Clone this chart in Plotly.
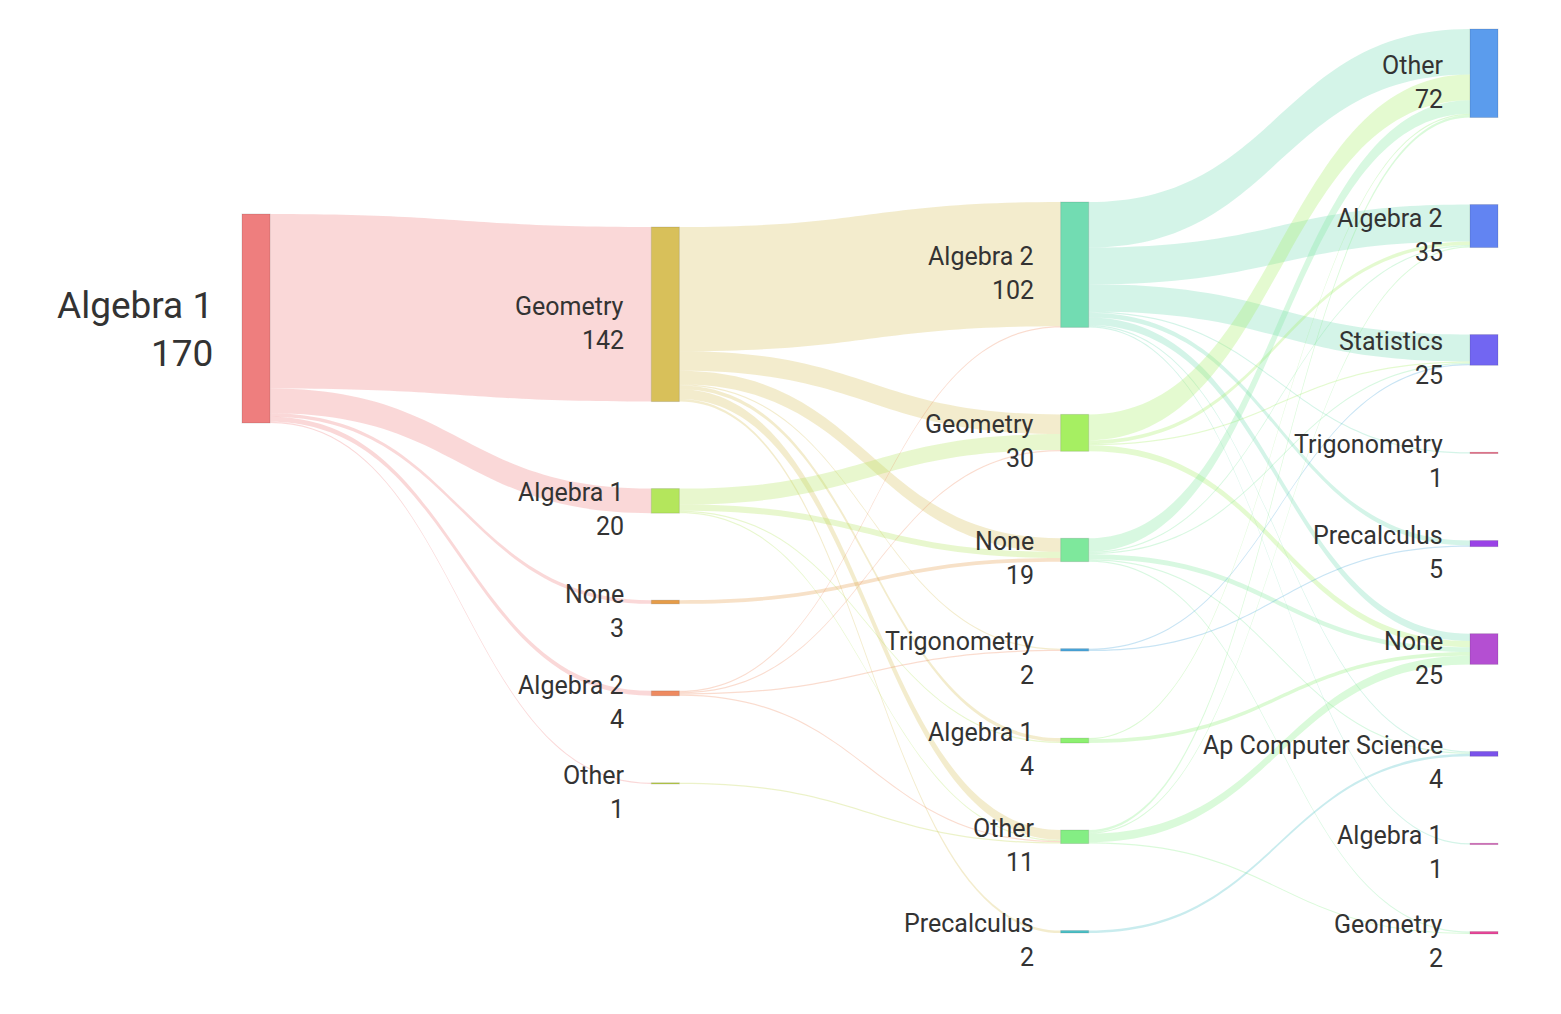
import plotly.graph_objects as go

# ---------------- data ----------------
node_names = [
    "Algebra 1",
    "Geometry", "Algebra 1", "None", "Algebra 2", "Other",
    "Algebra 2", "Geometry", "None", "Trigonometry", "Algebra 1", "Other", "Precalculus",
    "Other", "Algebra 2", "Statistics", "Trigonometry", "Precalculus", "None",
    "Ap Computer Science", "Algebra 1", "Geometry",
]
node_stage = [0,
              1, 1, 1, 1, 1,
              2, 2, 2, 2, 2, 2, 2,
              3, 3, 3, 3, 3, 3, 3, 3, 3]

link_source = [0, 0, 0, 0, 0,
               1, 1, 1, 1, 1, 1, 1,
               2, 2, 2, 2,
               3,
               4, 4, 4, 4,
               5,
               6, 6, 6, 6, 6, 6, 6, 6,
               7, 7, 7, 7,
               8, 8, 8, 8, 8, 8,
               9, 9,
               10, 10,
               11, 11, 11, 11,
               12]
link_target = [1, 2, 3, 4, 5,
               6, 7, 8, 9, 10, 11, 12,
               7, 8, 10, 11,
               8,
               6, 7, 9, 11,
               11,
               13, 14, 15, 16, 17, 18, 19, 20,
               13, 14, 15, 18,
               13, 14, 15, 18, 19, 21,
               15, 17,
               13, 18,
               13, 14, 18, 21,
               19]
link_value = [142, 20, 3, 4, 1,
              101, 16, 11, 1, 3, 8, 2,
              13, 5, 1, 1,
              3,
              1, 1, 1, 1,
              1,
              37, 30, 22, 1, 4, 6, 1, 1,
              21, 3, 1, 5,
              11, 1, 1, 4, 1, 1,
              1, 1,
              1, 3,
              2, 1, 7, 1,
              2]

# ---------------- style ----------------
node_colors = [
    "#ee7e7e",
    "#d8c05a", "#b4e65c", "#e69c48", "#ee8a60", "#bfd44c",
    "#72dcb2", "#a6ef62", "#7ee89c", "#4aa6dc", "#8cf070", "#84ee84", "#4cc0c6",
    "#5b9ced", "#6284f2", "#7266f2", "#ee4f72", "#9a42e6", "#b44fd2",
    "#7a52ea", "#d646b4", "#e8479a",
]

FIG_W, FIG_H = 1561, 1014
M_L, M_R = 256, 77
TOP_PX, BOTTOM_PX = 29, 934        # vertical extent of the fullest column
GAP = 87                           # gap between nodes
THICK = 28
COL_TOP = [214, 227, 202, 29]      # pixel top of each column's first node
N_STAGES = 4
PLOT_W = FIG_W - M_L - M_R


def hex_rgb(hx):
    hx = hx.lstrip("#")
    return int(hx[0:2], 16), int(hx[2:4], 16), int(hx[4:6], 16)


def rgba(hx, a):
    r, g, b = hex_rgb(hx)
    return f"rgba({r},{g},{b},{a})"


# node totals (from links)
n = len(node_names)
inflow = [0] * n
outflow = [0] * n
for s, t, v in zip(link_source, link_target, link_value):
    outflow[s] += v
    inflow[t] += v
node_total = [max(i, o) for i, o in zip(inflow, outflow)]

col_counts = [node_stage.count(k) for k in range(N_STAGES)]
col_sums = [sum(node_total[i] for i in range(n) if node_stage[i] == k) for k in range(N_STAGES)]
max_count = max(col_counts)
max_sum = max(col_sums)

# pixels per unit so that the fullest column spans TOP_PX..BOTTOM_PX with GAP spacing
KY = (BOTTOM_PX - TOP_PX - (max_count - 1) * GAP) / max_sum
# plotly's sankey caps padding at 2/3 of the height -> nodes take 1/3 of sankey height
SANKEY_H = 3 * KY * max_sum
PAD = 2 / 3 * SANKEY_H / (max_count - 1)
M_T = TOP_PX
M_B = FIG_H - M_T - SANKEY_H

# positions
node_cx_px, node_cy_px = [], []
cursor = list(COL_TOP)
for i in range(n):
    k = node_stage[i]
    h = node_total[i] * KY
    node_cy_px.append(cursor[k] + h / 2)
    cursor[k] += h + GAP
    node_cx_px.append(M_L + PLOT_W * k / (N_STAGES - 1))

node_x = [max((cx - M_L) / PLOT_W, 1e-6) for cx in node_cx_px]
node_y = [max((cy - M_T) / SANKEY_H, 1e-6) for cy in node_cy_px]

fig = go.Figure(go.Sankey(
    arrangement="fixed",
    node=dict(
        label=[""] * n,
        x=node_x,
        y=node_y,
        pad=PAD,
        thickness=THICK,
        color=node_colors,
        line=dict(color="rgba(0,0,0,0.12)", width=1),
        hoverinfo="none",
    ),
    link=dict(
        source=link_source,
        target=link_target,
        value=link_value,
        color=[rgba(node_colors[s], 0.3) for s in link_source],
        hoverinfo="none",
    ),
))

annotations = []
TEXT_COLOR = "#333333"
for i in range(n):
    big = node_stage[i] == 0
    fs = 37 if big else 25
    right_px = node_cx_px[i] - THICK / 2 - (27 if big else 25)
    name_dy = -13 if big else -8
    val_dy = 35 if big else 26
    xp = (right_px - M_L) / PLOT_W
    for txt, dy in ((node_names[i], name_dy), (str(node_total[i]), val_dy)):
        yp = 1 - (node_cy_px[i] + dy - M_T) / SANKEY_H
        annotations.append(dict(
            x=xp, y=yp, xref="paper", yref="paper",
            xanchor="right", yanchor="middle",
            text=txt, showarrow=False, align="right",
            font=dict(family="Roboto", size=fs, color=TEXT_COLOR),
        ))

fig.update_layout(
    width=FIG_W, height=FIG_H,
    margin=dict(l=M_L, r=M_R, t=M_T, b=M_B),
    paper_bgcolor="white",
    plot_bgcolor="white",
    font=dict(family="Roboto", size=25, color=TEXT_COLOR),
    annotations=annotations,
)

fig.write_html("out.html", include_plotlyjs=True, full_html=True,
               config={"displayModeBar": False},
               post_script="document.body.style.margin='0';")
